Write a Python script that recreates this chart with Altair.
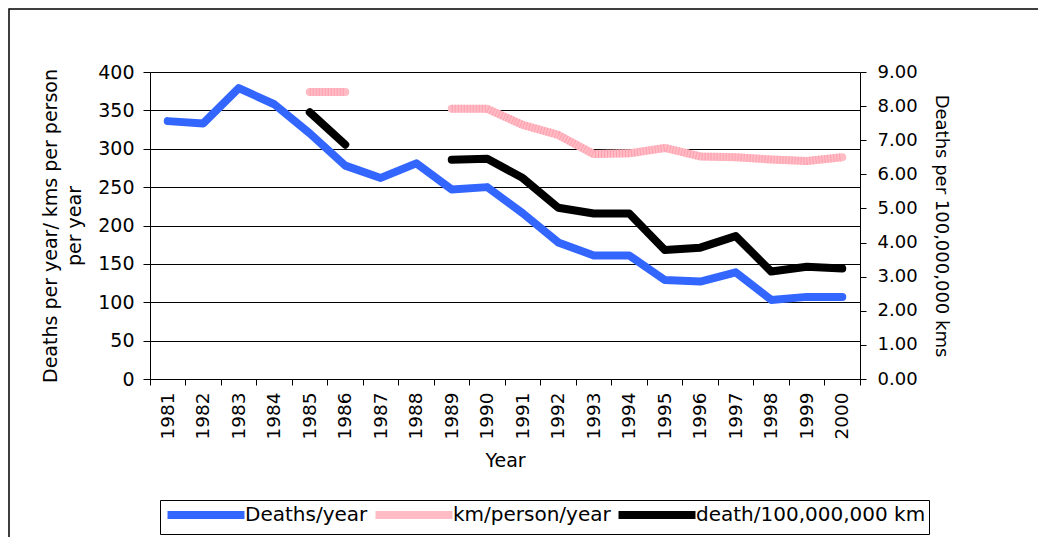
import altair as alt
import pandas as pd

years = [str(y) for y in range(1981, 2001)]
deaths_per_year = [336, 333, 379, 358, 320, 278, 262, 281, 247, 250,
                   216, 178, 161, 161, 129, 127, 139, 103, 107, 107]
km_per_person_year = [None, None, None, None, 374, 374, None, None, 352, 352,
                      331, 318, 293, 294, 301, 290, 289, 286, 284, 289]
deaths_per_100m_km = [None, None, None, None, 7.82, 6.87, None, None, 6.43, 6.46,
                      5.89, 5.02, 4.85, 4.85, 3.78, 3.85, 4.19, 3.15, 3.29, 3.24]

series_names = ["Deaths/year", "km/person/year", "death/100,000,000 km"]
series_colors = ["#3366FF", "#FFBCC4", "#000000"]

left_ticks = [0, 50, 100, 150, 200, 250, 300, 350, 400]
right_ticks = [0, 1, 2, 3, 4, 5, 6, 7, 8, 9]

FONT = "DejaVu Sans"

left_df = pd.DataFrame(
    {"year": years * 2,
     "series": [series_names[0]] * len(years) + [series_names[1]] * len(years),
     "value": deaths_per_year + km_per_person_year}
)
right_df = pd.DataFrame(
    {"year": years, "series": [series_names[2]] * len(years), "value": deaths_per_100m_km}
)

x_enc = alt.X(
    "year:O",
    sort=years,
    scale=alt.Scale(type="band", paddingInner=0, paddingOuter=0),
    axis=alt.Axis(
        title="Year", titleFont=FONT, titleFontSize=19, titleFontWeight="normal",
        titleColor="black", titlePadding=12,
        labelAngle=270, labelFont=FONT, labelFontSize=18.5, labelColor="black",
        labelPadding=7, tickSize=6, tickColor="black", domainColor="black",
        bandPosition=1, tickExtra=True, grid=False,
    ),
)

color_enc = alt.Color(
    "series:N",
    scale=alt.Scale(domain=series_names, range=series_colors),
    legend=alt.Legend(
        title=None, orient="none", legendX=10, legendY=428, direction="horizontal",
        symbolType="M-5,0H5", symbolSize=237, symbolStrokeWidth=8,
        symbolOffset=31,
        labelFont=FONT, labelFontSize=20, labelColor="black", labelOffset=27,
        labelLimit=400,
        strokeColor="black", padding=3, columnPadding=-9, fillColor="white",
    ),
)

left_axis = alt.Axis(
    values=left_ticks, orient="left",
    title=["Deaths per year/ kms per person", "per year"],
    titleFont=FONT, titleFontSize=19, titleFontWeight="normal", titleColor="black",
    titleLineHeight=24, titlePadding=13,
    labelFont=FONT, labelFontSize=19, labelColor="black", labelPadding=9,
    labelOverlap=False,
    tickSize=7, tickColor="black", domainColor="black",
    grid=True, gridColor="black", gridWidth=1,
)

right_axis = alt.Axis(
    values=right_ticks, orient="right", format=".2f",
    title="Deaths per 100,000,000 kms",
    titleFont=FONT, titleFontSize=18, titleFontWeight="normal", titleColor="black",
    titlePadding=14,
    labelFont=FONT, labelFontSize=18, labelColor="black", labelPadding=11,
    labelOverlap=False,
    tickSize=6, tickColor="black", domainColor="black", grid=False,
)

left_scale = alt.Scale(domain=[0, 400])

left_lines = alt.Chart(left_df).mark_line(
    strokeWidth=8, strokeCap="round", strokeJoin="round",
    invalid="break-paths-show-domains",
).encode(
    x=x_enc,
    y=alt.Y("value:Q", scale=left_scale, axis=left_axis),
    color=color_enc,
)

pink_stripes = alt.Chart(left_df).transform_filter(
    alt.datum.series == series_names[1]
).mark_line(
    strokeWidth=8, strokeCap="butt", strokeJoin="round", color="#FF9EAE",
    strokeDash=[1, 2], invalid="break-paths-show-domains",
).encode(
    x=x_enc,
    y=alt.Y("value:Q", scale=left_scale, axis=left_axis),
)

left_layer = alt.layer(left_lines, pink_stripes)

right_line = alt.Chart(right_df).mark_line(
    strokeWidth=8, strokeCap="round", strokeJoin="round",
    invalid="break-paths-show-domains",
).encode(
    x=x_enc,
    y=alt.Y("value:Q", scale=alt.Scale(domain=[0, 9]), axis=right_axis),
    color=color_enc,
)

frame = alt.Chart(alt.Data(values=[{"a": 1}])).mark_rect(
    fill="white", fillOpacity=0, stroke="black", strokeWidth=1.5
).encode(
    x=alt.value(-141), x2=alt.value(1500), y=alt.value(-63), y2=alt.value(1000)
)

chart = alt.layer(left_layer, right_line, frame).resolve_scale(
    y="independent"
).properties(
    width=710, height=307,
    autosize=alt.AutoSizeParams(type="none"),
    padding={"left": 142, "top": 64, "right": 178, "bottom": 158},
).configure_view(
    fill="#FFFF99", stroke="#808080", strokeWidth=1
).configure(background="white")

chart.save("out.html", embed_options={"renderer": "svg", "actions": False})
